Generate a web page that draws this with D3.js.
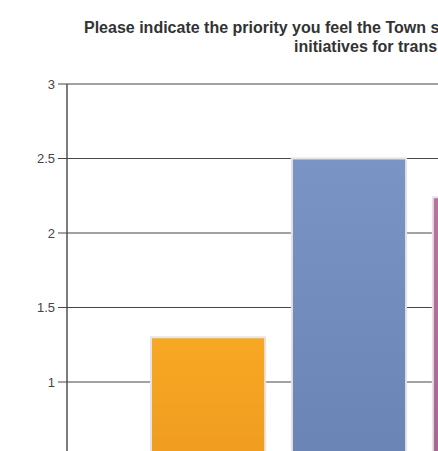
<!DOCTYPE html>
<html>
<head>
<meta charset="utf-8">
<script src="https://cdn.jsdelivr.net/npm/d3@7"></script>
<style>
  body { margin: 0; background: #fff; }
  svg { display: block; font-family: "Liberation Sans", Arial, sans-serif; }
</style>
</head>
<body>
<div class="home"></div>
<script>
// chart data (only the first three bars are visible in the crop)
const categories = ["Option 1", "Option 2", "Option 3"];
const values = [1.3, 2.5, 2.24];
const yTicks = [0.5, 1, 1.5, 2, 2.5, 3];
const titleLines = [
  "Please indicate the priority you feel the Town should place on the following",
  "initiatives for transportation"
];
const barTop = ["#f7a823", "#7a94c6", "#b9739f"];
const barBottom = ["#eb951e", "#6680b1", "#a8618f"];

const width = 438;
const height = 451;

const svg = d3.select(".home").append("svg")
  .attr("width", width)
  .attr("height", height);

// y scale: 0 sits below the visible area
const y = d3.scaleLinear().domain([0, 3]).range([531, 84]);

const x = d3.scaleBand()
  .domain(categories)
  .range([67, 631])
  .paddingInner(0.19)
  .paddingOuter(0.596);

// gradients for the bars
const defs = svg.append("defs");
categories.forEach(function (c, i) {
  const g = defs.append("linearGradient")
    .attr("id", "grad" + i)
    .attr("x1", 0).attr("y1", 0).attr("x2", 0).attr("y2", 1);
  g.append("stop").attr("offset", "0%").attr("stop-color", barTop[i]);
  g.append("stop").attr("offset", "100%").attr("stop-color", barBottom[i]);
});

// title
svg.append("g").selectAll("text")
  .data(titleLines)
  .enter()
  .append("text")
  .attr("x", function (d, i) { return i == 0 ? 84 : 294; })
  .attr("y", function (d, i) { return 33 + i * 19; })
  .style("font-size", "16px")
  .style("font-weight", "bold")
  .style("fill", "#333")
  .text(function (d) { return d; });

// gridlines + ticks
const grid = svg.append("g");
grid.selectAll("line.grid")
  .data(yTicks)
  .enter()
  .append("line")
  .attr("class", "grid")
  .attr("x1", 58)
  .attr("x2", width)
  .attr("y1", function (d) { return y(d); })
  .attr("y2", function (d) { return y(d); })
  .style("stroke", "#4a4545")
  .style("stroke-width", 1.2);

grid.selectAll("text")
  .data(yTicks)
  .enter()
  .append("text")
  .attr("x", 55)
  .attr("y", function (d) { return y(d); })
  .attr("dy", "0.35em")
  .style("text-anchor", "end")
  .style("font-size", "13px")
  .style("fill", "#444")
  .text(function (d) { return d; });

// bars
svg.append("g").selectAll("rect")
  .data(values)
  .enter()
  .append("rect")
  .attr("x", function (d, i) { return x(categories[i]); })
  .attr("y", function (d) { return y(d); })
  .attr("width", x.bandwidth())
  .attr("height", function (d) { return y(0) - y(d); })
  .style("fill", function (d, i) { return "url(#grad" + i + ")"; })
  .style("stroke", "#e4e4e4")
  .style("stroke-width", 2);

// y axis line
svg.append("line")
  .attr("x1", 67).attr("x2", 67)
  .attr("y1", y(3)).attr("y2", height)
  .style("stroke", "#4a4545")
  .style("stroke-width", 1.4);
</script>
</body>
</html>
